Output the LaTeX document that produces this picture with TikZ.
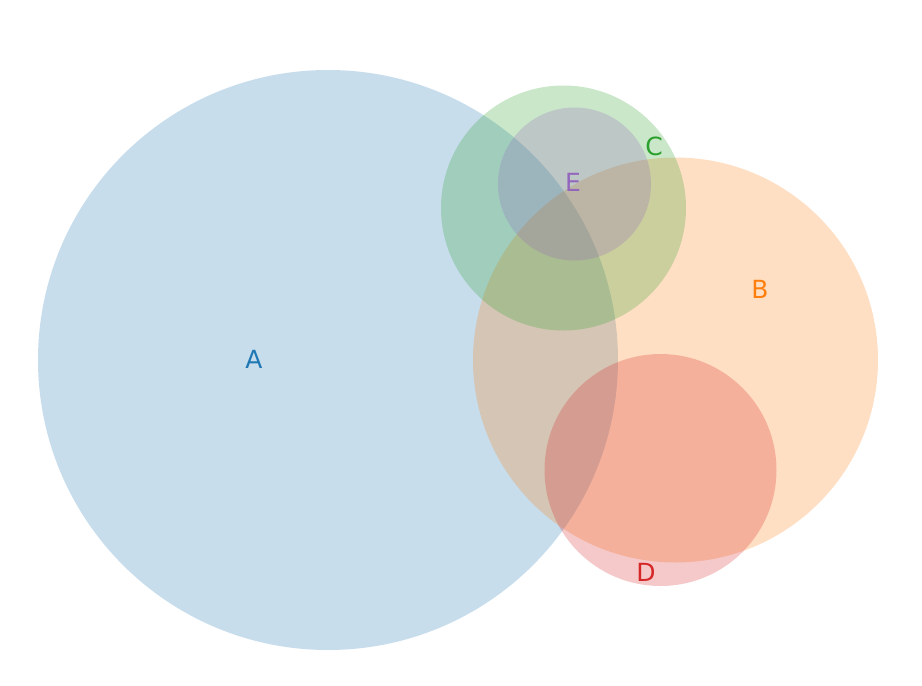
\documentclass[tikz,border=0pt]{standalone}
\usepackage{fontspec}
\setmainfont{DejaVu Sans}
\usepackage{tikz}
\definecolor{tabblue}{RGB}{31,119,180}
\definecolor{taborange}{RGB}{255,127,14}
\definecolor{tabgreen}{RGB}{44,160,44}
\definecolor{tabred}{RGB}{214,39,40}
\definecolor{tabpurple}{RGB}{148,103,189}
\tikzset{
  setfill/.style={fill=#1, fill opacity=0.25},
  setlabel/.style={text=#1, font=\fontsize{25}{25}\selectfont, inner sep=0pt}
}

\begin{document}
\begin{tikzpicture}[x=1pt,y=-1pt]
  \useasboundingbox (0,0) rectangle (922,686);
  % ensembles
  \fill[setfill=tabblue] (328,360) circle (290);
  \fill[setfill=taborange] (675.5,360) circle (202.5);
  \fill[setfill=tabgreen] (563.5,208) circle (122.5);
  \fill[setfill=tabred] (660.5,470) circle (116);
  \fill[setfill=tabpurple] (574.5,184) circle (76.5);
  % etiquettes
  \node[setlabel=tabblue] (labA) at (254,359) {A};
  \node[setlabel=taborange] (labB) at (760,289) {B};
  \node[setlabel=tabgreen] (labC) at (654,146) {C};
  \node[setlabel=tabred] (labD) at (646,572) {D};
  \node[setlabel=tabpurple] (labE) at (573,182) {E};
\end{tikzpicture}
\end{document}
